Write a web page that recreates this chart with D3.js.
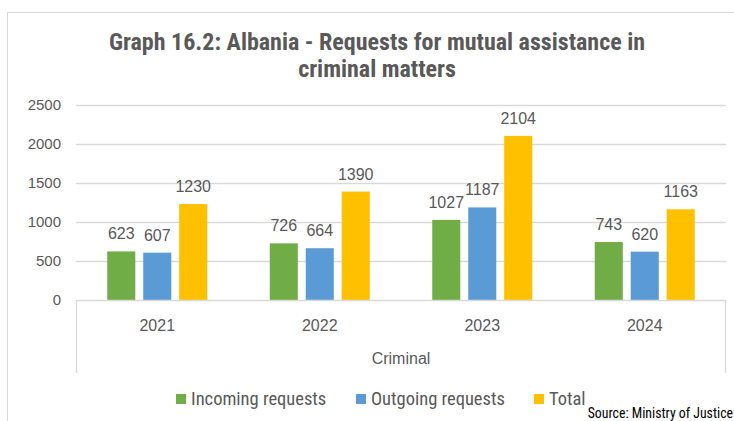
<!DOCTYPE html>
<html>
<head>
<meta charset="utf-8">
<script src="https://cdn.jsdelivr.net/npm/d3@7"></script>
<style>
  body { margin: 0; background: #fff; }
  svg { display: block; }
</style>
</head>
<body>
<svg id="chart"></svg>
<script>
const years = ["2021", "2022", "2023", "2024"];
const seriesNames = ["Incoming requests", "Outgoing requests", "Total"];
const incoming = [623, 726, 1027, 743];
const outgoing = [607, 664, 1187, 620];
const total = [1230, 1390, 2104, 1163];
const yTicks = [0, 500, 1000, 1500, 2000, 2500];
const colors = ["#70AD47", "#5B9BD5", "#FFC000"];

const W = 734, H = 421;
const svg = d3.select("#chart").attr("width", W).attr("height", H);

const narrow = "'Liberation Sans Narrow', 'Arial Narrow', 'Roboto Condensed', sans-serif";
const sans = "'Liberation Sans', Arial, sans-serif";
const grey = "#595959";

// chart border
svg.append("rect")
  .attr("x", 7.5).attr("y", 12.5)
  .attr("width", W).attr("height", H)
  .attr("fill", "none").attr("stroke", "#d9d9d9");

// title
const title = svg.append("text")
  .attr("text-anchor", "middle")
  .attr("font-family", narrow)
  .attr("font-weight", "bold")
  .attr("font-size", 24)
  .attr("fill", grey);
title.append("tspan").attr("x", 377).attr("y", 50).text("Graph 16.2: Albania - Requests for mutual assistance in");
title.append("tspan").attr("x", 377).attr("y", 77).text("criminal matters");

const plotLeft = 76, plotRight = 726, plotTop = 105, plotBottom = 300;

const x0 = d3.scaleBand().domain(years).range([plotLeft, plotRight]);
const x1 = d3.scaleBand().domain(seriesNames).range([0, 100]).paddingInner(0.22);
const y = d3.scaleLinear().domain([0, 2500]).range([plotBottom, plotTop]);

// gridlines
svg.append("g").selectAll("line")
  .data(yTicks.filter(d => d > 0))
  .enter().append("line")
  .attr("x1", plotLeft).attr("x2", plotRight)
  .attr("y1", d => Math.round(y(d)) + 0.5).attr("y2", d => Math.round(y(d)) + 0.5)
  .attr("stroke", "#d9d9d9").attr("stroke-width", 1.3);

// y axis labels
const yAxis = svg.append("g")
  .attr("transform", `translate(${plotLeft - 15},0)`)
  .call(d3.axisLeft(y).tickValues(yTicks).tickFormat(d3.format("d")).tickSize(0).tickPadding(0));
yAxis.select(".domain").remove();
yAxis.selectAll("text")
  .attr("font-family", sans).attr("font-size", 15).attr("fill", grey);

// bars
const values = [incoming, outgoing, total];
const rows = [];
years.forEach((yr, i) => {
  seriesNames.forEach((s, j) => rows.push({ year: yr, series: s, value: values[j][i], color: colors[j] }));
});

const offset = (x0.bandwidth() - 100) / 2;
svg.append("g").selectAll("rect")
  .data(rows)
  .enter().append("rect")
  .attr("x", d => x0(d.year) + offset + x1(d.series))
  .attr("y", d => y(d.value))
  .attr("width", x1.bandwidth())
  .attr("height", d => plotBottom - y(d.value))
  .attr("fill", d => d.color);

svg.append("g").selectAll("text")
  .data(rows)
  .enter().append("text")
  .attr("x", d => x0(d.year) + offset + x1(d.series) + x1.bandwidth() / 2)
  .attr("y", d => y(d.value) - 12)
  .attr("text-anchor", "middle")
  .attr("font-family", sans).attr("font-size", 16).attr("fill", grey)
  .text(d => d.value);

// category axis box
const axisG = svg.append("g").attr("stroke", "#d9d9d9").attr("stroke-width", 1.3);
axisG.append("line").attr("x1", plotLeft).attr("x2", plotRight).attr("y1", plotBottom + 0.5).attr("y2", plotBottom + 0.5);
axisG.append("line").attr("x1", plotLeft + 0.5).attr("x2", plotLeft + 0.5).attr("y1", plotBottom).attr("y2", 373);
axisG.append("line").attr("x1", plotRight - 0.5).attr("x2", plotRight - 0.5).attr("y1", plotBottom).attr("y2", 373);

svg.append("g").selectAll("text")
  .data(years)
  .enter().append("text")
  .attr("x", d => x0(d) + x0.bandwidth() / 2)
  .attr("y", 331)
  .attr("text-anchor", "middle")
  .attr("font-family", sans).attr("font-size", 16).attr("fill", grey)
  .text(d => d);

svg.append("text")
  .attr("x", (plotLeft + plotRight) / 2).attr("y", 364)
  .attr("text-anchor", "middle")
  .attr("font-family", sans).attr("font-size", 16).attr("fill", grey)
  .text("Criminal");

// legend
const legendX = [176, 356, 534];
const legend = svg.append("g").selectAll("g")
  .data(seriesNames)
  .enter().append("g")
  .attr("transform", (d, i) => `translate(${legendX[i]},394)`);
legend.append("rect")
  .attr("width", 10).attr("height", 10)
  .attr("fill", (d, i) => colors[i]);
legend.append("text")
  .attr("x", 15).attr("y", 11)
  .attr("font-family", narrow).attr("font-size", 18.5).attr("fill", grey)
  .text(d => d);

svg.append("text")
  .attr("x", 733).attr("y", 418)
  .attr("text-anchor", "end")
  .attr("font-family", narrow).attr("font-size", 13.8).attr("fill", "#000")
  .text("Source: Ministry of Justice");
</script>
</body>
</html>
